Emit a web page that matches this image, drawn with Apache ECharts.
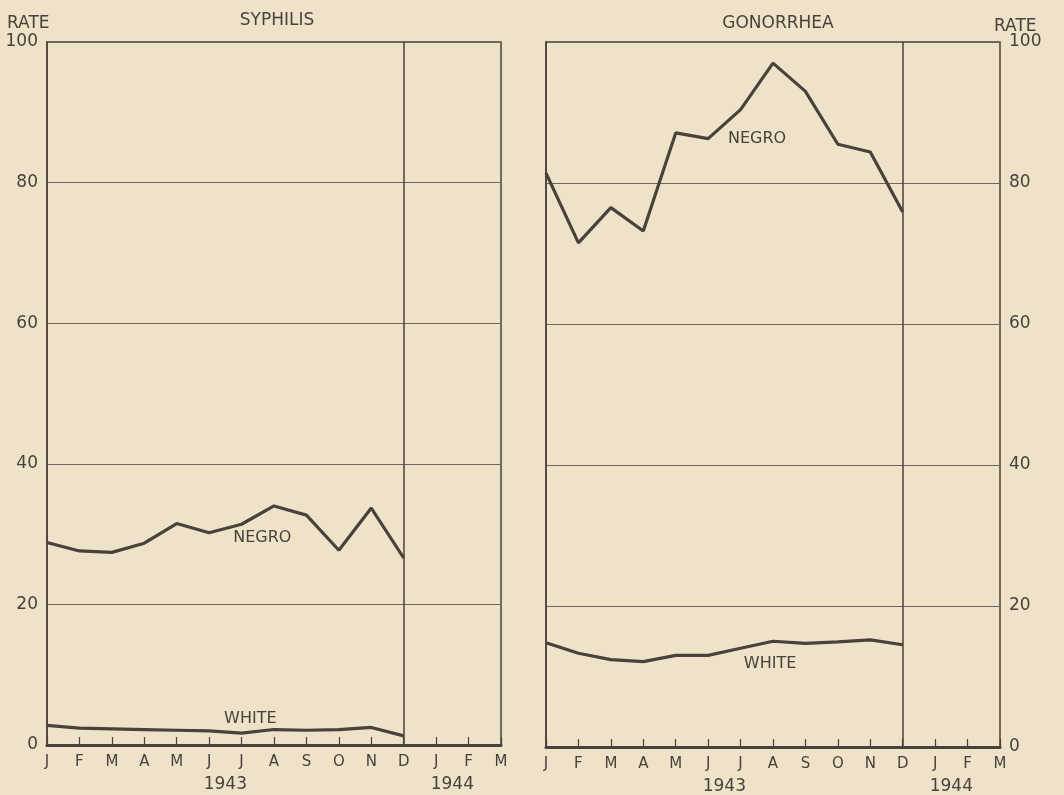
<!DOCTYPE html>
<html>
<head>
<meta charset="utf-8">
<script src="https://cdn.jsdelivr.net/npm/echarts@6/dist/echarts.min.js"></script>
<style>
html,body{margin:0;padding:0;background:#eee3c8;}
#chart{width:1064px;height:795px;}
</style>
</head>
<body>
<div id="chart"></div>
<script>
const months = ['J','F','M','A','M','J','J','A','S','O','N','D','J','F','M'];
const yearLabels = ['1943', '1944'];
const yearAt = [5.5, 12.5];
const rateTicks = [0, 20, 40, 60, 80, 100];
const syphilisNegro = [28.8, 27.6, 27.4, 28.7, 31.5, 30.2, 31.4, 34.0, 32.7, 27.7, 33.7, 26.6];
const syphilisWhite = [2.8, 2.4, 2.3, 2.2, 2.1, 2.0, 1.7, 2.2, 2.1, 2.2, 2.5, 1.3];
const gonorrheaNegro = [81.4, 71.5, 76.5, 73.2, 87.1, 86.3, 90.4, 97.0, 93.0, 85.5, 84.4, 75.9];
const gonorrheaWhite = [14.8, 13.3, 12.4, 12.1, 13.0, 13.0, 14.0, 15.0, 14.7, 14.9, 15.2, 14.5];
const yearEnd = 11; // December 1943 divider

const INK = '#4a413b';
const GRID = '#6e655d';
const FONT = 'DejaVu Sans';

const chart = echarts.init(document.getElementById('chart'));

function pts(arr){ return arr.map((v,i)=>[i,v]); }

function monthAxis(gi){
  return {
    type:'value', gridIndex:gi, min:0, max:14, interval:1,
    axisLine:{show:true, lineStyle:{color:INK, width:3}},
    axisTick:{show:true, inside:true, length:8, lineStyle:{color:INK, width:1.2}},
    axisLabel:{color:INK, fontFamily:FONT, fontSize:15, margin:10,
      formatter:v=>months[v] || ''},
    splitLine:{show:false}
  };
}
function yearAxis(gi){
  return {
    type:'value', gridIndex:gi, min:0, max:14, interval:0.5, position:'bottom',
    axisLine:{show:false}, axisTick:{show:false}, splitLine:{show:false},
    axisLabel:{color:INK, fontFamily:FONT, fontSize:17, margin:31,
      formatter:v=>{const k=yearAt.indexOf(v); return k>=0?yearLabels[k]:'';}}
  };
}
function rateAxis(gi, pos){
  return {
    type:'value', gridIndex:gi, min:0, max:100, interval:20, position:pos,
    axisLine:{show:true, lineStyle:{color:INK, width:1.5}},
    axisTick:{show:false},
    axisLabel:{color:INK, fontFamily:FONT, fontSize:17, margin:9,
      formatter:v=>rateTicks.indexOf(v)>=0?String(v):''},
    splitLine:{show:true, lineStyle:{color:GRID, width:1.2}}
  };
}
function lineSeries(xi, yi, data, name, labelAt){
  return {
    type:'line', name:name, xAxisIndex:xi, yAxisIndex:yi, data:pts(data),
    symbol:'none', lineStyle:{color:INK, width:3.2}, z:5,
    markPoint:{
      symbol:'circle', symbolSize:0, silent:true,
      data:[{coord:labelAt, value:name}],
      label:{show:true, position:'inside', formatter:name, color:INK,
        fontFamily:FONT, fontSize:16}
    }
  };
}
function divider(xi, yi){
  return {
    type:'line', xAxisIndex:xi, yAxisIndex:yi, data:[], silent:true,
    markLine:{symbol:'none', silent:true, label:{show:false},
      lineStyle:{color:INK, width:1.5, type:'solid'},
      data:[{xAxis:yearEnd}]}
  };
}

chart.setOption({
  backgroundColor:'#eee3c8',
  animation:false,
  title:[
    {text:'SYPHILIS', left:272, top:7, textAlign:'center',
      textStyle:{color:INK, fontFamily:FONT, fontSize:17, fontWeight:'normal'}},
    {text:'GONORRHEA', left:773, top:10, textAlign:'center',
      textStyle:{color:INK, fontFamily:FONT, fontSize:17, fontWeight:'normal'}}
  ],
  graphic:[
    {type:'text', left:7, top:15, style:{text:'RATE', fill:INK, font:'17px "DejaVu Sans"'}},
    {type:'text', left:994, top:18, style:{text:'RATE', fill:INK, font:'17px "DejaVu Sans"'}}
  ],
  grid:[
    {left:47, right:563, top:42, bottom:50, show:true, borderColor:INK, borderWidth:1.5},
    {left:546, right:64, top:42, bottom:48, show:true, borderColor:INK, borderWidth:1.5}
  ],
  xAxis:[monthAxis(0), yearAxis(0), monthAxis(1), yearAxis(1)],
  yAxis:[rateAxis(0,'left'), rateAxis(1,'right')],
  series:[
    lineSeries(0, 0, syphilisNegro, 'NEGRO', [6.64, 29.4]),
    lineSeries(0, 0, syphilisWhite, 'WHITE', [6.27, 3.7]),
    divider(0, 0),
    lineSeries(2, 1, gonorrheaNegro, 'NEGRO', [6.51, 86.2]),
    lineSeries(2, 1, gonorrheaWhite, 'WHITE', [6.91, 11.8]),
    divider(2, 1)
  ]
});
</script>
</body>
</html>
